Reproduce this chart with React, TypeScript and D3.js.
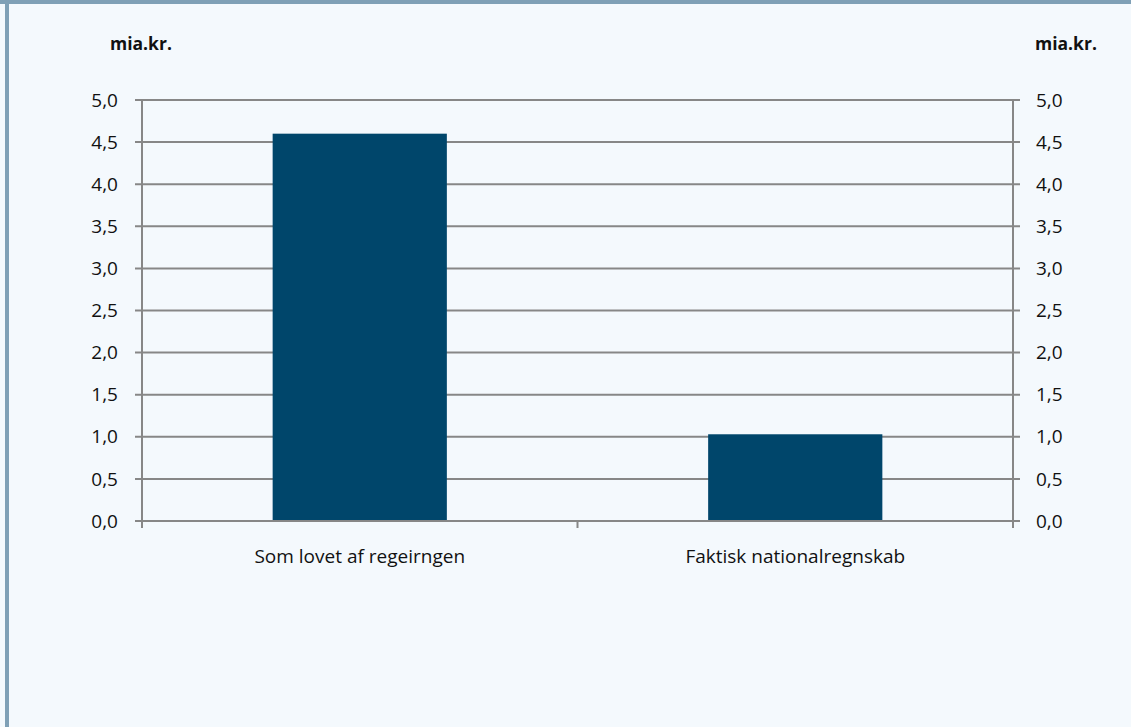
import React from "react";
import * as d3 from "d3";

const categories = ["Som lovet af regeirngen", "Faktisk nationalregnskab"];
const values = [4.6, 1.03];
const yTicks = [0, 0.5, 1, 1.5, 2, 2.5, 3, 3.5, 4, 4.5, 5];
const unitLabel = "mia.kr.";

const W = 1131;
const H = 727;
const left = 142;
const right = 1013;
const top = 100;
const bottom = 521;
const FONT = "'Open Sans', 'Noto Sans', sans-serif";
const GRID = "#878787";

export default function App() {
  const x = d3
    .scaleBand<string>()
    .domain(categories)
    .range([left, right])
    .paddingInner(0.6)
    .paddingOuter(0.3);
  const y = d3.scaleLinear().domain([0, 5]).range([bottom, top]);
  const fmt = (v: number) => d3.format(".1f")(v).replace(".", ",");
  const boundaries = d3.range(categories.length + 1).map((i) => left + ((right - left) / categories.length) * i);

  return (
    <svg
      width={W}
      height={H}
      style={{ position: "absolute", left: 0, top: 0, display: "block" }}
      fontFamily={FONT}
    >
      <rect x={0} y={0} width={W} height={H} fill="#f4f9fd" />
      <rect x={0} y={0} width={W} height={4} fill="#7fa0b6" />
      <rect x={5} y={0} width={4} height={H} fill="#7fa0b6" />

      {yTicks.map((t) => (
        <line key={"g" + t} x1={left - 7} x2={right + 7} y1={y(t)} y2={y(t)} stroke={GRID} strokeWidth={2} />
      ))}
      {yTicks.map((t) => (
        <text key={"l" + t} x={118} y={y(t)} dy="0.35em" textAnchor="end" fontSize={19} fill="#111">
          {fmt(t)}
        </text>
      ))}
      {yTicks.map((t) => (
        <text key={"r" + t} x={1036} y={y(t)} dy="0.35em" textAnchor="start" fontSize={19} fill="#111">
          {fmt(t)}
        </text>
      ))}

      {categories.map((c, i) => (
        <rect
          key={c}
          x={x(c)}
          y={y(values[i])}
          width={x.bandwidth()}
          height={y(0) - y(values[i])}
          fill="#00466b"
        />
      ))}

      <line x1={left} x2={left} y1={top} y2={bottom + 7} stroke={GRID} strokeWidth={2} />
      <line x1={right} x2={right} y1={top} y2={bottom + 7} stroke={GRID} strokeWidth={2} />
      <line x1={left - 7} x2={right + 7} y1={bottom} y2={bottom} stroke={GRID} strokeWidth={2} />
      {boundaries.map((bx, i) => (
        <line key={"b" + i} x1={bx} x2={bx} y1={bottom} y2={bottom + 7} stroke={GRID} strokeWidth={2} />
      ))}

      {categories.map((c) => (
        <text key={"c" + c} x={(x(c) as number) + x.bandwidth() / 2} y={563} textAnchor="middle" fontSize={19} fill="#111">
          {c}
        </text>
      ))}

      <text x={110} y={50} fontSize={17.5} fontWeight="bold" fill="#111">
        {unitLabel}
      </text>
      <text x={1035} y={50} fontSize={17.5} fontWeight="bold" fill="#111">
        {unitLabel}
      </text>
    </svg>
  );
}
